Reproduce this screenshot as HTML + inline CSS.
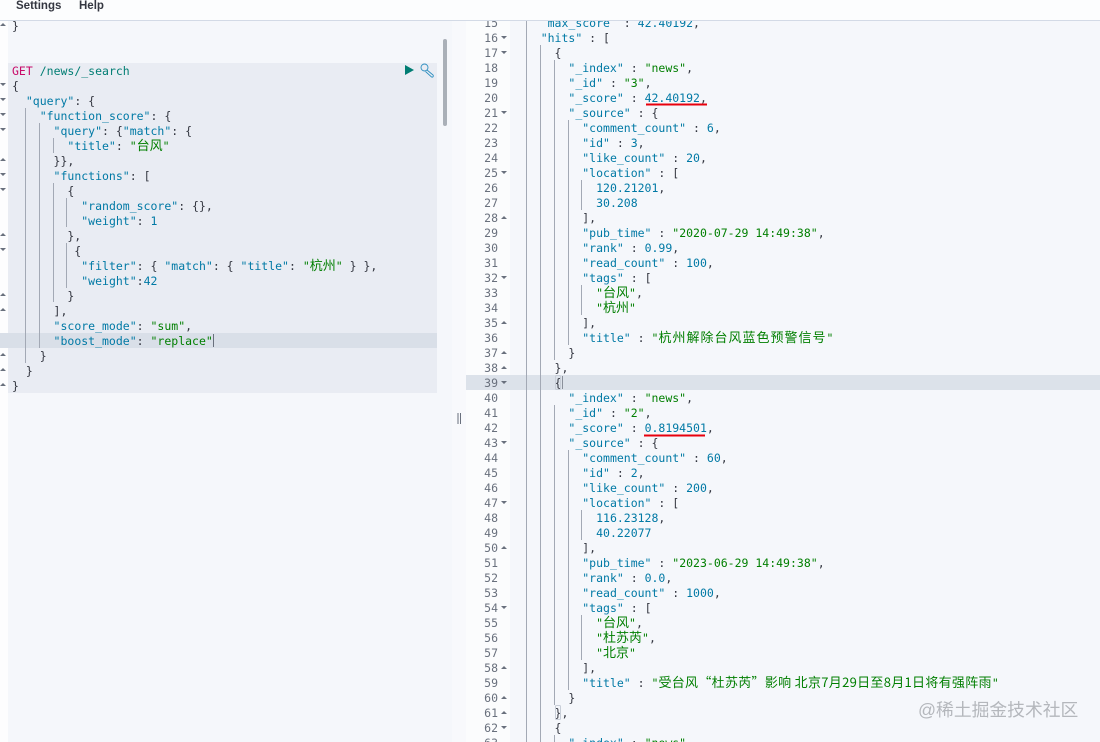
<!DOCTYPE html>
<html><head><meta charset="utf-8"><style>
html,body{margin:0;padding:0;background:#f5f7fb}
#r{position:relative;width:1100px;height:742px;overflow:hidden;background:#f5f7fb;font-family:"DejaVu Sans Mono","Liberation Mono","Noto Sans CJK SC",monospace;font-size:11.5px;color:#343741}
.a{position:absolute}
pre{margin:0;font:inherit;line-height:15px;white-space:pre}
pre div{height:15px}
.k{color:#0079a5}.s{color:#017d73}.g{color:#017f01}
.c{font-family:"Noto Sans CJK SC",sans-serif;font-size:13px;line-height:0;color:#017f01}
.w{letter-spacing:1px}
.v{letter-spacing:.3px}
</style></head><body><div id="r">
<div class="a" style="left:452px;top:0;width:14px;height:742px;background:#f8f9fc"></div>
<div class="a" style="left:0;top:0;width:8px;height:742px;background:#fdfdfe"></div>
<div class="a" style="left:466px;top:0;width:44px;height:742px;background:#fbfcfd"></div>
<div class="a" style="left:8px;top:63px;width:429px;height:330px;background:#e9ecf3"></div>
<div class="a" style="left:0;top:333px;width:437px;height:15px;background:#d9dfe8"></div>
<div class="a" style="left:466px;top:375px;width:634px;height:15px;background:#dce2ea"></div>
<div class="a" style="left:443px;top:39px;width:4px;height:87px;border-radius:2px;background:#aab0b8"></div>

<pre class="a" style="left:12px;top:19px">}</pre>
<pre class="a" style="left:12px;top:64px"><div><span style="color:#c80a68">GET</span> <span class="s">/news/_search</span></div><div>{</div><div>  <span class="k">"query"</span>: {</div><div>    <span class="k">"function_score"</span>: {</div><div>      <span class="k">"query"</span>: {<span class="k">"match"</span>: {</div><div>        <span class="k">"title"</span>: <span class="g">"<span class="c">台风</span>"</span></div><div>      }},</div><div>      <span class="k">"functions"</span>: [</div><div>        {</div><div>          <span class="k">"random_score"</span>: {},</div><div>          <span class="k">"weight"</span>: <span class="k">1</span></div><div>        },</div><div>         {</div><div>          <span class="k">"filter"</span>: { <span class="k">"match"</span>: { <span class="k">"title"</span>: <span class="g">"<span class="c">杭州</span>"</span> } },</div><div>          <span class="k">"weight"</span>:<span class="k">42</span></div><div>        }</div><div>      ],</div><div>      <span class="k">"score_mode"</span>: <span class="g">"sum"</span>,</div><div>      <span class="k">"boost_mode"</span>: <span class="g">"replace"</span></div><div>    }</div><div>  }</div><div>}</div></pre>

<pre class="a" style="left:466px;top:16px;width:32px;text-align:right;color:#69707d"><div>15</div><div>16</div><div>17</div><div>18</div><div>19</div><div>20</div><div>21</div><div>22</div><div>23</div><div>24</div><div>25</div><div>26</div><div>27</div><div>28</div><div>29</div><div>30</div><div>31</div><div>32</div><div>33</div><div>34</div><div>35</div><div>36</div><div>37</div><div>38</div><div>39</div><div>40</div><div>41</div><div>42</div><div>43</div><div>44</div><div>45</div><div>46</div><div>47</div><div>48</div><div>49</div><div>50</div><div>51</div><div>52</div><div>53</div><div>54</div><div>55</div><div>56</div><div>57</div><div>58</div><div>59</div><div>60</div><div>61</div><div>62</div><div>63</div></pre>

<pre class="a" style="left:513px;top:16px"><div>    <span class="k">"max_score"</span> : <span class="k">42.40192</span>,</div><div>    <span class="k">"hits"</span> : [</div><div>      {</div><div>        <span class="k">"_index"</span> : <span class="g">"news"</span>,</div><div>        <span class="k">"_id"</span> : <span class="g">"3"</span>,</div><div>        <span class="k">"_score"</span> : <span class="k">42.40192</span>,</div><div>        <span class="k">"_source"</span> : {</div><div>          <span class="k">"comment_count"</span> : <span class="k">6</span>,</div><div>          <span class="k">"id"</span> : <span class="k">3</span>,</div><div>          <span class="k">"like_count"</span> : <span class="k">20</span>,</div><div>          <span class="k">"location"</span> : [</div><div>            <span class="k">120.21201</span>,</div><div>            <span class="k">30.208</span></div><div>          ],</div><div>          <span class="k">"pub_time"</span> : <span class="g">"2020-07-29 14:49:38"</span>,</div><div>          <span class="k">"rank"</span> : <span class="k">0.99</span>,</div><div>          <span class="k">"read_count"</span> : <span class="k">100</span>,</div><div>          <span class="k">"tags"</span> : [</div><div>            <span class="g">"<span class="c">台风</span>"</span>,</div><div>            <span class="g">"<span class="c">杭州</span>"</span></div><div>          ],</div><div>          <span class="k">"title"</span> : <span class="g">"<span class="c w">杭州解除台风蓝色预警信号</span>"</span></div><div>        }</div><div>      },</div><div>      {</div><div>        <span class="k">"_index"</span> : <span class="g">"news"</span>,</div><div>        <span class="k">"_id"</span> : <span class="g">"2"</span>,</div><div>        <span class="k">"_score"</span> : <span class="k">0.8194501</span>,</div><div>        <span class="k">"_source"</span> : {</div><div>          <span class="k">"comment_count"</span> : <span class="k">60</span>,</div><div>          <span class="k">"id"</span> : <span class="k">2</span>,</div><div>          <span class="k">"like_count"</span> : <span class="k">200</span>,</div><div>          <span class="k">"location"</span> : [</div><div>            <span class="k">116.23128</span>,</div><div>            <span class="k">40.22077</span></div><div>          ],</div><div>          <span class="k">"pub_time"</span> : <span class="g">"2023-06-29 14:49:38"</span>,</div><div>          <span class="k">"rank"</span> : <span class="k">0.0</span>,</div><div>          <span class="k">"read_count"</span> : <span class="k">1000</span>,</div><div>          <span class="k">"tags"</span> : [</div><div>            <span class="g">"<span class="c">台风</span>"</span>,</div><div>            <span class="g">"<span class="c">杜苏芮</span>"</span>,</div><div>            <span class="g">"<span class="c">北京</span>"</span></div><div>          ],</div><div>          <span class="k">"title"</span> : <span class="g">"<span class="c v">受台风“杜苏芮”影响 北京7月29日至8月1日将有强阵雨</span>"</span></div><div>        }</div><div>      },</div><div>      {</div><div>        <span class="k">"_index"</span> : <span class="g">"news"</span></div></pre>

<svg class="a" style="left:0;top:0" width="1100" height="742">
<g stroke="#a3a9b5" stroke-width="1" fill="none">
<path d="M25.5 108V363M39.500 123V348M53.500 138V153M53.500 183V302M66.500 198V227M66.500 243V288"/>
<path d="M526.5 21V742M540.5 45V742M554.5 60V360M554.5 405V705M554.5 735V742M568.5 120V345M568.5 450V690M581.5 180V210M581.5 285V315M581.5 510V540M581.5 615V660"/>
<path d="M213.5 334V347" stroke="#69707d"/>
<path d="M458 413V424M460.5 413V424" stroke="#69707d"/>
<path d="M562.5 376V389" stroke="#8a909b"/>
</g>
<rect x="555.500" y="705.500" width="5" height="14" rx="1" fill="none" stroke="#c8ced8"/>
<rect x="555.500" y="375.500" width="5" height="14" rx="1" fill="none" stroke="#c8ced8"/>
<rect x="541" y="21" width="6" height="4" fill="#f5f7fb"/>
<rect x="609.500" y="21" width="6" height="4" fill="#f5f7fb"/>
<g fill="#69707d">
<path d="M0 83h6l-3 3zM0 98h6l-3 3zM0 113h6l-3 3zM0 128h6l-3 3zM0 173h6l-3 3zM0 188h6l-3 3zM0 248h6l-3 3z"/>
<path d="M0 26h6l-3-3zM0 161h6l-3-3zM0 236h6l-3-3zM0 296h6l-3-3zM0 311h6l-3-3zM0 356h6l-3-3zM0 371h6l-3-3zM0 386h6l-3-3z"/>
<path d="M501 36h6l-3 3zM501 51h6l-3 3zM501 111h6l-3 3zM501 171h6l-3 3zM501 276h6l-3 3zM501 381h6l-3 3zM501 441h6l-3 3zM501 501h6l-3 3zM501 606h6l-3 3zM501 726h6l-3 3z"/>
<path d="M501 219h6l-3-3zM501 324h6l-3-3zM501 354h6l-3-3zM501 369h6l-3-3zM501 549h6l-3-3zM501 669h6l-3-3zM501 699h6l-3-3zM501 714h6l-3-3z"/>
</g>
<path d="M405 65L414 70L405 75Z" fill="#017d73"/>
<g fill="none" stroke="#2f8fc0" stroke-width="0.9">
<circle cx="424.500" cy="67.500" r="3.500"/>
<path d="M427 70l6 5c1 1 0 2.500-1.500 2l-6-5.500"/>
</g>
<path d="M646 104.500H707" stroke="#e8000d" stroke-width="2"/>
<path d="M644 435.500H705" stroke="#e8000d" stroke-width="2"/>
</svg>

<div class="a" style="left:0;top:0;width:1100px;height:20px;background:#fcfdfe;border-bottom:1px solid #d3dae6"></div>
<div class="a" style="left:16px;top:-1px;font:bold 11.500px/15px 'Liberation Sans',sans-serif;color:#343741">Settings</div>
<div class="a" style="left:79px;top:-1px;font:bold 11.500px/15px 'Liberation Sans',sans-serif;color:#343741">Help</div>
<div class="a" style="left:918px;top:698px;font:17.800px/24px 'Liberation Sans','Noto Sans CJK SC',sans-serif;color:#b4b7bc">@稀土掘金技术社区</div>
</div></body></html>
